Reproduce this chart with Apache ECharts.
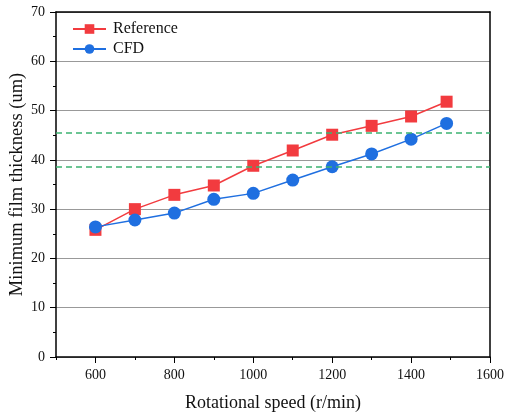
<!DOCTYPE html>
<html>
<head>
<meta charset="utf-8">
<script src="https://cdn.jsdelivr.net/npm/echarts@6/dist/echarts.min.js"></script>
<style>
  html, body { margin: 0; padding: 0; background: #fff; }
  #chart { width: 506px; height: 415px; }
</style>
</head>
<body>
<div id="chart"></div>
<script>
// data
const speeds = [600, 700, 800, 900, 1000, 1100, 1200, 1300, 1400, 1490];
const reference = [25.8, 30.0, 32.9, 34.8, 38.8, 41.9, 45.1, 46.9, 48.8, 51.8];
const cfd = [26.4, 27.8, 29.2, 32.0, 33.2, 35.9, 38.6, 41.2, 44.2, 47.4];
const dashLevels = [45.4, 38.6];
const xTicks = [600, 800, 1000, 1200, 1400, 1600];

const font = 'Liberation Serif';

function pairs(xs, ys) {
  return xs.map((x, i) => [x, ys[i]]);
}

const chart = echarts.init(document.getElementById('chart'));

chart.setOption({
  animation: false,
  textStyle: { fontFamily: font },
  grid: { left: 56, right: 16, top: 12, bottom: 58, outerBoundsMode: 'none', containLabel: false },
  legend: {
    left: 67, top: 16,
    orient: 'vertical',
    itemGap: 4,
    itemWidth: 33, itemHeight: 12,
    textStyle: { fontFamily: font, fontSize: 16, color: '#111', padding: [0, 0, 0, 2] },
    data: ['Reference', 'CFD']
  },
  xAxis: [{
    type: 'value', min: 500, max: 1600, interval: 100,
    name: 'Rotational speed (r/min)',
    nameLocation: 'middle', nameGap: 37, nameMoveOverlap: false,
    nameTextStyle: { fontFamily: font, fontSize: 18, color: '#111' },
    axisLine: { lineStyle: { color: '#000', width: 1.5 } },
    axisTick: { length: 6, customValues: xTicks, lineStyle: { color: '#000' } },
    axisLabel: {
      fontFamily: font, fontSize: 14, color: '#111', margin: 11,
      customValues: xTicks, formatter: v => String(v)
    },
    splitLine: { show: false }
  }, {
    type: 'value', min: 500, max: 1600, interval: 100, position: 'bottom',
    axisLine: { show: false },
    axisTick: { show: true, length: 3, lineStyle: { color: '#000' } },
    axisLabel: { show: false }, splitLine: { show: false }
  }, {
    type: 'value', min: 500, max: 1600, position: 'top',
    axisLine: { show: true, lineStyle: { color: '#000', width: 1.5 } },
    axisTick: { show: false }, axisLabel: { show: false }, splitLine: { show: false }
  }],
  yAxis: [{
    type: 'value', min: 0, max: 70, interval: 10,
    name: 'Minimum film thickness (um)',
    nameLocation: 'middle', nameGap: 29, nameMoveOverlap: false,
    nameTextStyle: { fontFamily: font, fontSize: 18.5, color: '#111' },
    axisLine: { show: true, lineStyle: { color: '#000', width: 1.5 } },
    axisTick: { show: true, length: 6, lineStyle: { color: '#000' } },
    minorTick: { show: true, splitNumber: 2, length: 3, lineStyle: { color: '#000' } },
    axisLabel: { fontFamily: font, fontSize: 14, color: '#111', margin: 11 },
    splitLine: { show: true, lineStyle: { color: '#999', width: 1 } }
  }, {
    type: 'value', min: 0, max: 70, position: 'right',
    axisLine: { show: true, lineStyle: { color: '#000', width: 1.5 } },
    axisTick: { show: false }, axisLabel: { show: false }, splitLine: { show: false }
  }],
  series: [{
    name: 'Reference',
    type: 'line',
    data: pairs(speeds, reference),
    symbol: 'rect', symbolSize: 12,
    itemStyle: { color: '#f23b3f' },
    lineStyle: { color: '#f23b3f', width: 1.5 },
    z: 3,
    markLine: {
      silent: true, symbol: 'none',
      label: { show: false },
      lineStyle: { color: '#3cb371', type: [6, 4], width: 1.5 },
      data: dashLevels.map(v => ({ yAxis: v }))
    }
  }, {
    name: 'CFD',
    type: 'line',
    data: pairs(speeds, cfd),
    symbol: 'circle', symbolSize: 13,
    itemStyle: { color: '#1f6fe0' },
    lineStyle: { color: '#1f6fe0', width: 1.5 },
    z: 4
  }]
});
</script>
</body>
</html>
